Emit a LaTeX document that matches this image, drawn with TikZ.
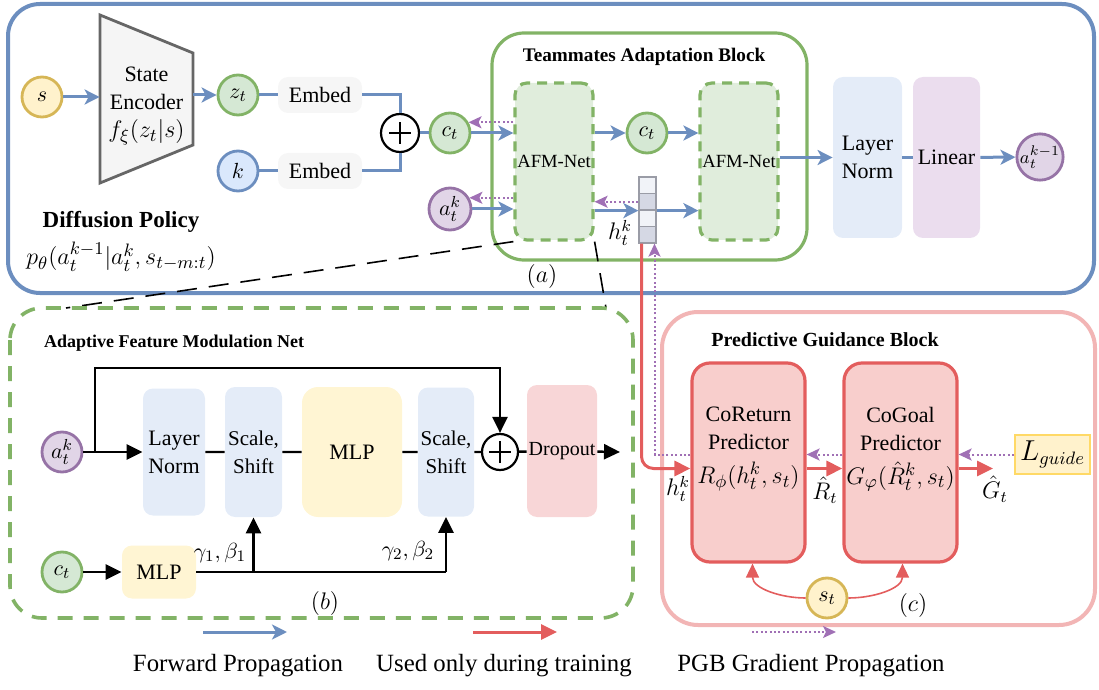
\documentclass[tikz,border=0pt]{standalone}
\usepackage{amsmath,amssymb}
\usepackage{fontspec}
\setmainfont{Liberation Serif}
\usepackage{tikz}
\usetikzlibrary{positioning,arrows.meta,calc}
\definecolor{fwdblue}{HTML}{6C8EBF}
\definecolor{trainred}{HTML}{E35D5D}
\definecolor{gradpurple}{HTML}{A070B5}
\definecolor{tabgreen}{HTML}{82B366}
\definecolor{greenfill}{HTML}{D5E8D4}
\definecolor{afmfill}{HTML}{E0EDDC}
\definecolor{bluefill}{HTML}{DAE8FC}
\definecolor{lnfill}{HTML}{E4ECF8}
\definecolor{linfill}{HTML}{EBDDEE}
\definecolor{purpfill}{HTML}{E1D5E7}
\definecolor{purpdraw}{HTML}{9673A6}
\definecolor{yelfill}{HTML}{FFF2CC}
\definecolor{yeldraw}{HTML}{D6B656}
\definecolor{mlpfill}{HTML}{FFF5D3}
\definecolor{dropfill}{HTML}{F8D6D7}
\definecolor{predfill}{HTML}{F8CECC}
\definecolor{pgbpink}{HTML}{F2B5B5}
\definecolor{encfill}{HTML}{F5F5F5}
\definecolor{encdraw}{HTML}{666666}
\definecolor{embfill}{HTML}{F6F6F6}
\definecolor{guidedraw}{HTML}{FFD966}
\definecolor{cellA}{HTML}{F1F3F8}
\definecolor{cellB}{HTML}{D5D8E4}
\definecolor{celldraw}{HTML}{9A9CA6}
\tikzset{
  var/.style={circle,draw,line width=1.4pt,minimum size=20pt,inner sep=0pt,font=\fontsize{11}{12}\selectfont},
  greenvar/.style={var,draw=tabgreen,fill=greenfill},
  bluevar/.style={var,draw=fwdblue,fill=bluefill},
  purpvar/.style={var,draw=purpdraw,fill=purpfill},
  yelvar/.style={var,draw=yeldraw,fill=yelfill},
  layerbox/.style={rectangle,rounded corners=5pt,inner sep=0pt,align=center,font=\fontsize{11}{14}\selectfont},
  afmnet/.style={rectangle,rounded corners=6pt,draw=tabgreen,fill=afmfill,line width=1.6pt,dash pattern=on 5pt off 3.5pt,
    minimum width=39pt,minimum height=78.5pt,inner sep=0pt,font=\fontsize{9.3}{10}\selectfont},
  predbox/.style={rectangle,rounded corners=9pt,draw=trainred,fill=predfill,line width=1.6pt,minimum width=56.5pt,minimum height=99.5pt},
  plusnode/.style={circle,draw,line width=1.1pt,fill=white,minimum size=19pt,inner sep=0pt,
    path picture={\draw[line width=1.3pt] ([xshift=-5.5pt]path picture bounding box.center) -- ([xshift=5.5pt]path picture bounding box.center);
      \draw[line width=1.3pt] ([yshift=-5.5pt]path picture bounding box.center) -- ([yshift=5.5pt]path picture bounding box.center);}},
  fwd/.style={draw=fwdblue,line width=1.5pt,-{Stealth[length=7.5pt,width=7.5pt,inset=2pt]}},
  fwdline/.style={draw=fwdblue,line width=1.5pt},
  trainarr/.style={draw=trainred,line width=1.5pt,-{Triangle[length=8pt,width=7.5pt]}},
  trainthin/.style={draw=trainred,line width=0.8pt,-{Triangle[length=7pt,width=6.5pt]}},
  gradarr/.style={draw=gradpurple,line width=1pt,dash pattern=on 1pt off 1.2pt,-{Stealth[length=6.5pt,width=6pt,inset=1.5pt]}},
  blkarr/.style={draw=black,line width=1.2pt,-{Triangle[length=8pt,width=7.5pt]}},
  blkline/.style={draw=black,line width=1.2pt},
  zoomline/.style={draw=black,line width=0.8pt,dash pattern=on 10pt off 6pt},
  blocktitle/.style={font=\bfseries\fontsize{10}{12}\selectfont},
  lbl/.style={font=\fontsize{11.5}{13}\selectfont},
  legendtext/.style={font=\fontsize{12.4}{14}\selectfont}
}

\begin{document}
\begin{tikzpicture}[x=0.5pt,y=0.5pt]
  \useasboundingbox (0,0) rectangle (1099,-690);

  % diffusion policy frame
  \draw[fwdblue,line width=2pt,rounded corners=16pt] (8,-4) rectangle (1094,-293);
  \node[font=\bfseries\fontsize{11.5}{13}\selectfont] (dptitle) at (121,-222) {Diffusion Policy};
  \node[font=\fontsize{12.5}{14}\selectfont] (dpform) at (121,-257) {$p_\theta(a_t^{k-1}|a_t^k,s_{t-m:t})$};

  % state encoder
  \draw[draw=encdraw,fill=encfill,line width=1.4pt] (100,-15) -- (193,-53) -- (193,-145) -- (100,-183) -- cycle;
  \node[minimum width=46.5pt,minimum height=45pt,inner sep=0pt,align=center,font=\fontsize{11}{14}\selectfont] (enc) at (146.5,-106)
    {State\\Encoder\\{\fontsize{12.5}{14}\selectfont$f_\xi(z_t|s)$}};

  \node[yelvar] (s) at (42,-97) {$s$};
  \node[greenvar] (zt) at (238,-95) {$z_t$};
  \node[bluevar] (kk) at (238,-171) {$k$};
  \node[layerbox,fill=embfill,minimum width=42pt,minimum height=18pt] (emb1) at (320,-95) {Embed};
  \node[layerbox,fill=embfill,minimum width=42pt,minimum height=18pt] (emb2) at (320,-171) {Embed};
  \node[plusnode] (plus1) at (400,-133) {};
  \node[greenvar] (ct1) at (450,-133) {$c_t$};
  \node[purpvar,minimum size=21pt] (atk1) at (450,-209) {$a_t^k$};

  % teammates adaptation block
  \draw[tabgreen,line width=1.6pt,rounded corners=16pt] (492,-33) rectangle (807,-260);
  \node[blocktitle,font=\bfseries\fontsize{9.6}{12}\selectfont] (tabtitle) at (644,-57) {Teammates Adaptation Block};
  \node[afmnet] (afm1) at (554,-161.5) {AFM-Net};
  \node[afmnet] (afm2) at (739,-161.5) {AFM-Net};
  \node[greenvar] (ct2) at (647,-133) {$c_t$};
  \foreach \i/\c in {1/cellA,2/cellB,3/cellA,4/cellB}
    \node[draw=celldraw,fill=\c,line width=0.6pt,minimum width=8.5pt,minimum height=8.25pt,inner sep=0pt] (h\i) at (647.5,{-168.75-16.5*\i}) {};
  \node[lbl] (hlab) at (620,-233) {$h_t^k$};
  \node[lbl] (alab) at (542,-276) {$(a)$};

  \node[layerbox,fill=lnfill,minimum width=34.5pt,minimum height=80.5pt] (ln1) at (867.5,-157.5) {Layer\\Norm};
  \node[layerbox,fill=linfill,minimum width=33.5pt,minimum height=80.5pt] (lin1) at (946.5,-157.5) {Linear};
  \node[purpvar,minimum size=22pt,font=\fontsize{9.5}{10}\selectfont] (akm1) at (1040,-157) {$a_t^{k-1}$};

  \draw[fwd] (s) -- (s -| enc.west);
  \draw[fwd] (zt -| enc.east) -- (zt);
  \draw[fwdline] (zt) -- (emb1);
  \draw[fwdline] (kk) -- (emb2);
  \draw[fwdline] (emb1.east) -| (plus1.north);
  \draw[fwdline] (emb2.east) -| (plus1.south);
  \draw[fwdline] (plus1) -- (ct1);
  \draw[fwd] (ct1) -- (ct1 -| afm1.west);
  \draw[gradarr] (afm1.west |- ct1.30) -- (ct1.30);
  \draw[fwd] (atk1) -- (atk1 -| afm1.west);
  \draw[gradarr] (afm1.west |- atk1.30) -- (atk1.30);
  \draw[fwd] (afm1.east |- ct2) -- (ct2);
  \draw[fwd] (ct2) -- (ct2 -| afm2.west);
  \draw[fwd] (afm1.east |- h2.south west) -- (h2.south west);
  \draw[gradarr] (h2.west) -- (h2.west -| afm1.east);
  \draw[fwd] (h2.south east) -- (h2.south east -| afm2.west);
  \draw[fwd] (ln1.west -| afm2.east) -- (ln1.west);
  \draw[fwdline] (ln1) -- (lin1);
  \draw[fwd] (lin1) -- (akm1);

  % zoom lines
  \coordinate (zoomL) at (66,-308);
  \coordinate (zoomR) at (606,-308);
  \draw[zoomline] (afm1.south west) -- (zoomL);
  \draw[zoomline] (afm1.south east) -- (zoomR);

  % adaptive feature modulation net
  \draw[tabgreen,line width=1.8pt,dash pattern=on 7.5pt off 5.5pt,rounded corners=16pt] (10,-308) rectangle (633,-618);
  \node[blocktitle,font=\bfseries\fontsize{9}{12}\selectfont,anchor=west] (afmtitle) at (37,-343) {Adaptive Feature Modulation Net};
  \node[purpvar] (atk2) at (62,-452) {$a_t^k$};
  \node[layerbox,fill=lnfill,minimum width=31pt,minimum height=63.5pt] (ln2) at (174,-452) {Layer\\Norm};
  \node[layerbox,fill=lnfill,minimum width=28.5pt,minimum height=65pt,font=\fontsize{10.5}{14}\selectfont] (ss1) at (253.5,-452) {Scale,\\Shift};
  \node[layerbox,fill=mlpfill,minimum width=50pt,minimum height=65pt,rounded corners=8pt] (mlp2) at (352,-452) {MLP};
  \node[layerbox,fill=lnfill,minimum width=28pt,minimum height=64.5pt,font=\fontsize{10.5}{14}\selectfont] (ss2) at (446,-452) {Scale,\\Shift};
  \node[plusnode,minimum size=18pt] (plus2) at (500,-452) {};
  \node[layerbox,fill=dropfill,minimum width=35pt,minimum height=66pt,font=\fontsize{10}{12}\selectfont] (drop) at (562,-451) {Dropout};
  \coordinate (dout) at (620,-452);
  \node[greenvar] (ct3) at (62,-572) {$c_t$};
  \node[layerbox,fill=mlpfill,minimum width=37pt,minimum height=26.5pt] (mlp3) at (159,-572) {MLP};
  \coordinate (skp) at (95,-368);

  \draw[blkarr] (atk2) -- (atk2 -| ln2.west);
  \draw[blkarr] (atk2 -| skp) -- (skp) -| (plus2.north);
  \draw[blkline] (ln2) -- (ss1) -- (mlp2) -- (ss2) -- (plus2) -- (drop);
  \draw[blkarr] (drop) -- (dout);
  \draw[blkarr] (ct3) -- (mlp3);
  \draw[blkline] (mlp3.east) -- (mlp3.east -| ss2.south);
  \draw[blkarr] (mlp3.east -| ss1.south) -- (ss1.south);
  \draw[blkarr] (mlp3.east -| ss2.south) -- (ss2.south);
  \node[lbl,font=\fontsize{11}{12}\selectfont] (gb1) at (220,-553) {$\gamma_1,\beta_1$};
  \node[lbl,font=\fontsize{11}{12}\selectfont] (gb2) at (408,-551) {$\gamma_2,\beta_2$};
  \node[lbl] (blab) at (325,-603) {$(b)$};

  % predictive guidance block
  \draw[pgbpink,line width=2pt,rounded corners=18pt] (662,-312) rectangle (1095,-625);
  \node[blocktitle] (pgbtitle) at (825,-340) {Predictive Guidance Block};
  \node[predbox] (cr) at (748.5,-462.5) {};
  \node[predbox] (cg) at (900.5,-462.5) {};
  \node[align=center,font=\fontsize{11}{14}\selectfont] (crtext) at (748.5,-449)
    {CoReturn\\Predictor\\[3pt]{\fontsize{12.5}{14}\selectfont$R_\phi(h_t^k,s_t)$}};
  \node[align=center,font=\fontsize{11}{14}\selectfont] (cgtext) at (900.5,-449)
    {CoGoal\\Predictor\\[3pt]{\fontsize{12.5}{14}\selectfont$G_\varphi(\hat{R}_t^k,s_t)$}};
  \node[draw=guidedraw,fill=yelfill,line width=1pt,minimum width=37.5pt,minimum height=19.5pt,inner sep=0pt,
    font=\fontsize{13.5}{14}\selectfont] (lg) at (1052.5,-454.5) {$L_{guide}$};
  \node[yelvar] (st) at (827,-598) {$s_t$};
  \coordinate (gout) at (993,-468.5);

  \draw[trainarr,rounded corners=6pt] ([xshift=-3pt]h4.south) |- ([yshift=-3pt]cr.west);
  \draw[gradarr] ([yshift=4pt]cr.west) -| ([xshift=3.5pt]h4.south);
  \draw[trainarr] ([yshift=-3pt]cr.east) -- ([yshift=-3pt]cg.west);
  \draw[gradarr] ([yshift=4pt]cg.west) -- ([yshift=4pt]cr.east);
  \draw[trainarr] ([yshift=-3pt]cg.east) -- (gout);
  \draw[gradarr] (lg.west) -- (lg.west -| cg.east);
  \draw[trainthin] (st.west) to[out=180,in=-90] ([xshift=2pt]cr.south);
  \draw[trainthin] (st.east) to[out=0,in=-90] ([xshift=1pt]cg.south);
  \node[lbl] (hklab) at (678,-489) {$h_t^k$};
  \node[lbl] (rlab) at (825,-490) {$\hat{R}_t$};
  \node[lbl] (glab) at (995,-489) {$\hat{G}_t$};
  \node[lbl] (clab) at (913,-605) {$(c)$};

  % legend
  \coordinate (fwdA) at (203,-632);
  \coordinate (fwdB) at (287,-632);
  \coordinate (trnA) at (473,-632);
  \coordinate (trnB) at (557,-632);
  \coordinate (grdA) at (752,-632);
  \coordinate (grdB) at (836,-632);
  \draw[fwd] (fwdA) -- (fwdB);
  \draw[trainarr] (trnA) -- (trnB);
  \draw[gradarr] (grdA) -- (grdB);
  \node[legendtext] (fwdtext) at (238,-666) {Forward Propagation};
  \node[legendtext] (trntext) at (504,-666) {Used only during training};
  \node[legendtext] (grdtext) at (811,-666) {PGB Gradient Propagation};
\end{tikzpicture}
\end{document}
